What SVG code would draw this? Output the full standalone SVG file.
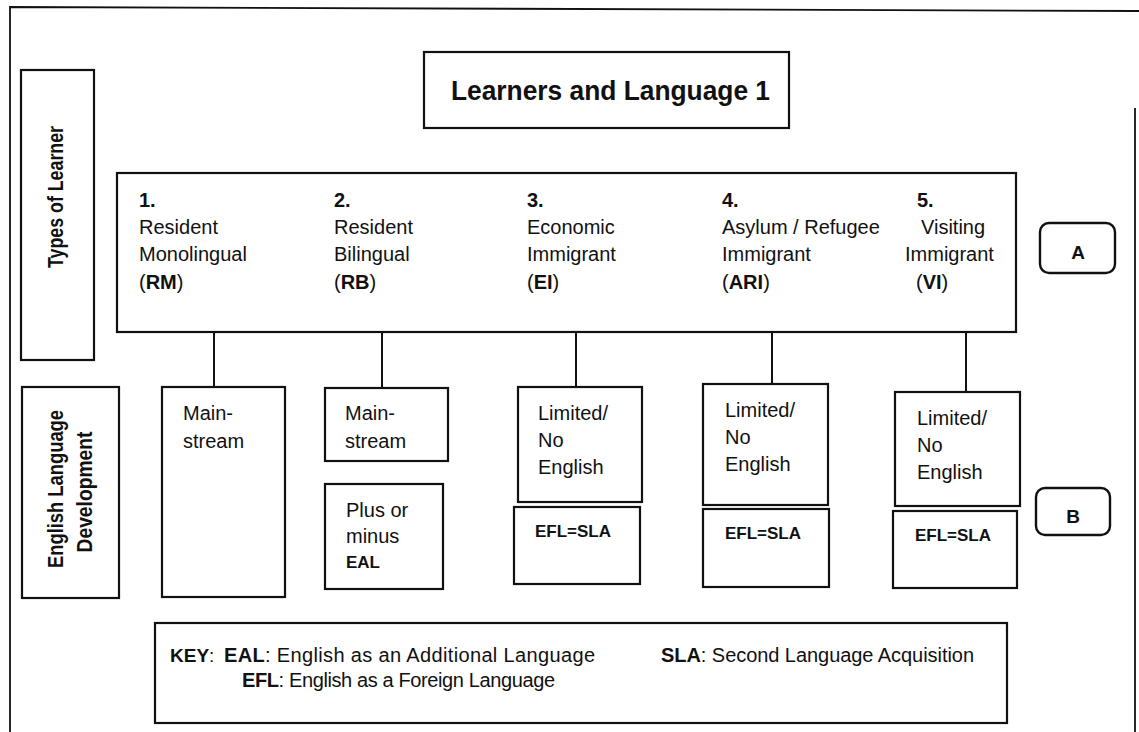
<svg xmlns="http://www.w3.org/2000/svg" width="1139" height="732" viewBox="0 0 1139 732">
<style>
  .box { fill: #ffffff; stroke: #111111; stroke-width: 2.2; }
  .rbox { fill: #ffffff; stroke: #111111; stroke-width: 2.4; }
  .frame { fill: none; stroke: #111111; stroke-width: 1.8; }
  .conn line { stroke: #111111; stroke-width: 2; }
  text { font-family: "Liberation Sans", Arial, sans-serif; fill: #111111; }
  .t { font-size: 20px; }
  .b { font-weight: bold; }
  .efl { font-size: 17px; font-weight: bold; }
  .title { font-size: 27px; font-weight: bold; }
  .side { font-size: 22px; font-weight: bold; }
  .letter { font-size: 19px; font-weight: bold; }
  .keyw { font-size: 19px; }
</style>
<rect x="0" y="0" width="1139" height="732" fill="#ffffff"/>

<g id="frame">
  <path class="frame" d="M10,732 L10,7 L1139,11"/>
  <line class="frame" x1="1135" y1="108" x2="1135" y2="732"/>
</g>

<g id="title">
  <rect class="box" x="424" y="52" width="365" height="76"/>
  <text class="title" x="451" y="100" textLength="319" lengthAdjust="spacingAndGlyphs">Learners and Language 1</text>
</g>

<g id="types-label">
  <rect class="box" x="21" y="70" width="73" height="290"/>
  <text class="side" transform="translate(63,197) rotate(-90)" text-anchor="middle" textLength="142" lengthAdjust="spacingAndGlyphs">Types of Learner</text>
</g>

<g id="eld-label">
  <rect class="box" x="22" y="387" width="97" height="211"/>
  <text class="side" transform="translate(63,489) rotate(-90)" text-anchor="middle" textLength="158" lengthAdjust="spacingAndGlyphs">English Language</text>
  <text class="side" transform="translate(92,492) rotate(-90)" text-anchor="middle" textLength="121" lengthAdjust="spacingAndGlyphs">Development</text>
</g>

<g id="learner-types">
  <rect class="box" x="117" y="173" width="899" height="159"/>
  <text class="t">
    <tspan class="b" x="139" y="207">1.</tspan>
    <tspan x="139" y="234">Resident</tspan>
    <tspan x="139" y="261">Monolingual</tspan>
    <tspan x="139" y="289">(<tspan class="b">RM</tspan>)</tspan>
  </text>
  <text class="t">
    <tspan class="b" x="334" y="207">2.</tspan>
    <tspan x="334" y="234">Resident</tspan>
    <tspan x="334" y="261">Bilingual</tspan>
    <tspan x="334" y="289">(<tspan class="b">RB</tspan>)</tspan>
  </text>
  <text class="t">
    <tspan class="b" x="527" y="207">3.</tspan>
    <tspan x="527" y="234">Economic</tspan>
    <tspan x="527" y="261">Immigrant</tspan>
    <tspan x="527" y="289">(<tspan class="b">EI</tspan>)</tspan>
  </text>
  <text class="t">
    <tspan class="b" x="722" y="207">4.</tspan>
    <tspan x="722" y="234">Asylum / Refugee</tspan>
    <tspan x="722" y="261">Immigrant</tspan>
    <tspan x="722" y="289">(<tspan class="b">ARI</tspan>)</tspan>
  </text>
  <text class="t">
    <tspan class="b" x="917" y="207">5.</tspan>
    <tspan x="921" y="234">Visiting</tspan>
    <tspan x="905" y="261">Immigrant</tspan>
    <tspan x="916" y="289">(<tspan class="b">VI</tspan>)</tspan>
  </text>
</g>

<g id="label-A">
  <rect class="rbox" x="1040" y="223" width="75" height="50" rx="9" ry="9"/>
  <text class="letter" x="1078" y="259" text-anchor="middle">A</text>
</g>

<g id="connectors" class="conn">
  <line x1="214" y1="332" x2="214" y2="387"/>
  <line x1="382" y1="332" x2="382" y2="388"/>
  <line x1="576" y1="332" x2="576" y2="387"/>
  <line x1="772" y1="332" x2="772" y2="384"/>
  <line x1="966" y1="332" x2="966" y2="392"/>
</g>

<g id="rm-mainstream">
  <rect class="box" x="162" y="387" width="123" height="210"/>
  <text class="t"><tspan x="183" y="420">Main-</tspan><tspan x="183" y="448">stream</tspan></text>
</g>

<g id="rb-mainstream">
  <rect class="box" x="325" y="388" width="123" height="73"/>
  <text class="t"><tspan x="345" y="420">Main-</tspan><tspan x="345" y="448">stream</tspan></text>
</g>

<g id="rb-eal">
  <rect class="box" x="325" y="484" width="118" height="105"/>
  <text class="t"><tspan x="346" y="517">Plus or</tspan><tspan x="346" y="543">minus</tspan></text>
  <text class="efl" x="346" y="568">EAL</text>
</g>

<g id="ei-limited">
  <rect class="box" x="518" y="387" width="124" height="115"/>
  <text class="t"><tspan x="538" y="420">Limited/</tspan><tspan x="538" y="447">No</tspan><tspan x="538" y="474">English</tspan></text>
</g>
<g id="ei-efl">
  <rect class="box" x="514" y="507" width="126" height="77"/>
  <text class="efl" x="535" y="537">EFL=SLA</text>
</g>

<g id="ari-limited">
  <rect class="box" x="703" y="384" width="125" height="121"/>
  <text class="t"><tspan x="725" y="417">Limited/</tspan><tspan x="725" y="444">No</tspan><tspan x="725" y="471">English</tspan></text>
</g>
<g id="ari-efl">
  <rect class="box" x="703" y="509" width="126" height="78"/>
  <text class="efl" x="725" y="539">EFL=SLA</text>
</g>

<g id="vi-limited">
  <rect class="box" x="895" y="392" width="125" height="114"/>
  <text class="t"><tspan x="917" y="425">Limited/</tspan><tspan x="917" y="452">No</tspan><tspan x="917" y="479">English</tspan></text>
</g>
<g id="vi-efl">
  <rect class="box" x="893" y="511" width="124" height="77"/>
  <text class="efl" x="915" y="541">EFL=SLA</text>
</g>

<g id="label-B">
  <rect class="rbox" x="1036" y="488" width="74" height="47" rx="9" ry="9"/>
  <text class="letter" x="1073" y="523" text-anchor="middle">B</text>
</g>

<g id="key">
  <rect class="box" x="155" y="623" width="852" height="100"/>
  <text class="keyw" x="170" y="662"><tspan class="b">KEY</tspan>:</text>
  <text class="t" x="224" y="662" textLength="371"><tspan class="b">EAL</tspan>: English as an Additional Language</text>
  <text class="t" x="242" y="687" textLength="313"><tspan class="b">EFL</tspan>: English as a Foreign Language</text>
  <text class="t" x="661" y="662" textLength="313"><tspan class="b">SLA</tspan>: Second Language Acquisition</text>
</g>
</svg>
